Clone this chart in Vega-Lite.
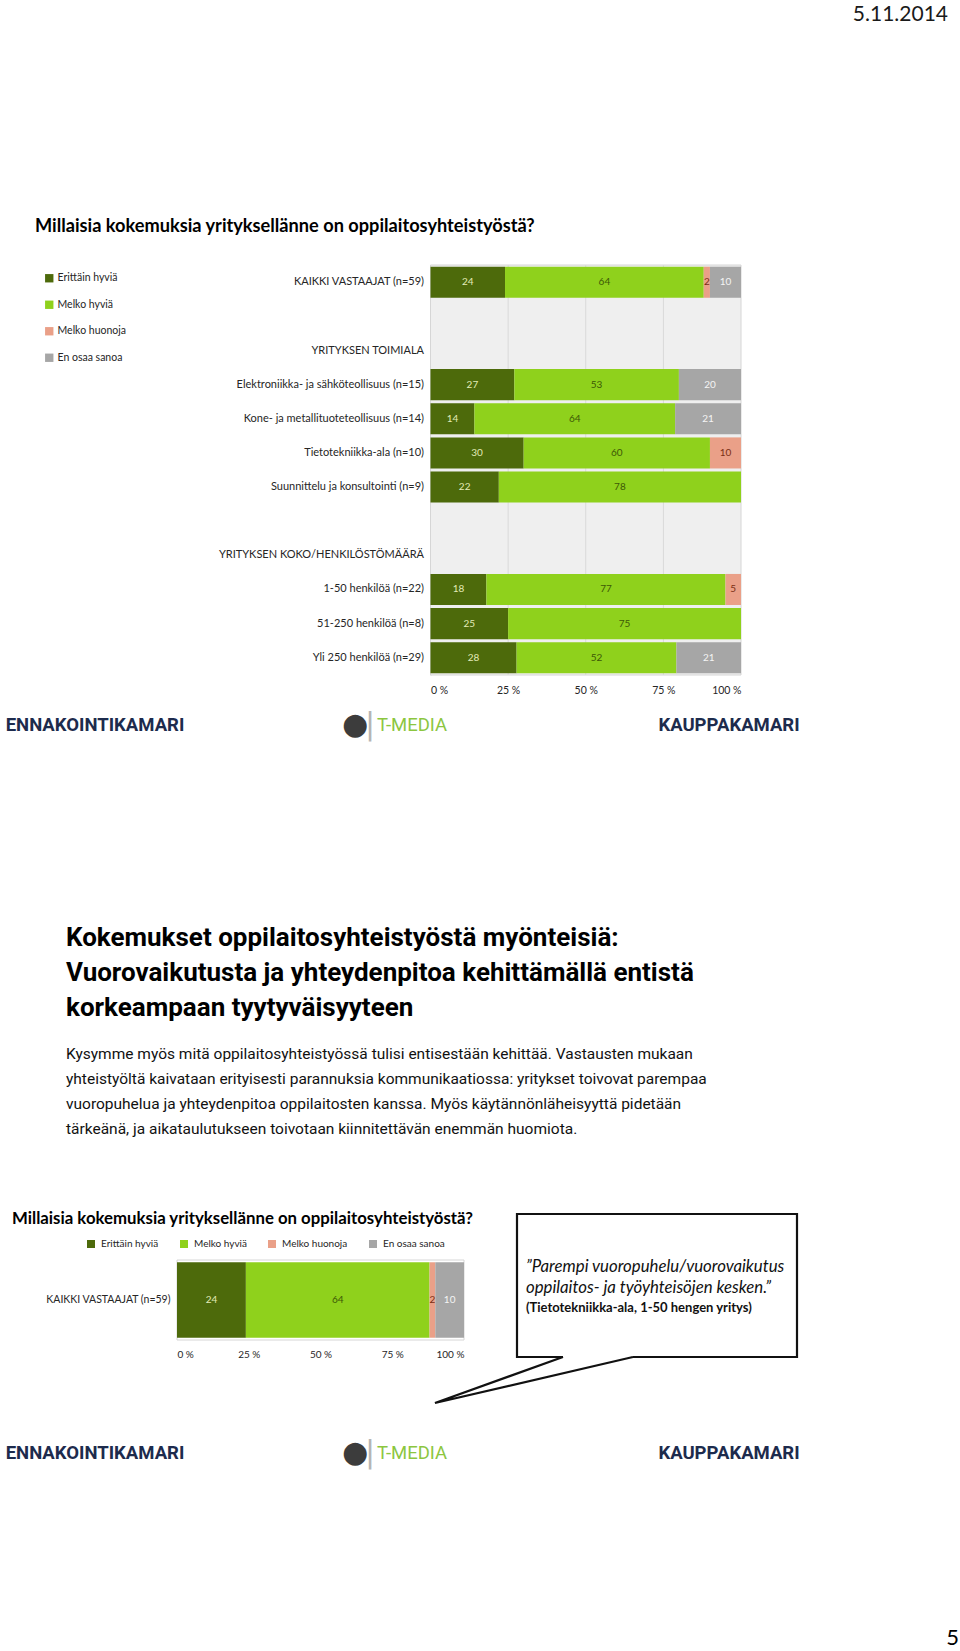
{
  "$schema": "https://vega.github.io/schema/vega-lite/v6.json",
  "padding": 0,
  "background": "white",
  "spacing": 0,
  "bounds": "flush",
  "datasets": {
    "c1": [
      {"row": "KAIKKI VASTAAJAT (n=59)", "cat": "Erittäin hyviä", "pct": 24},
      {"row": "KAIKKI VASTAAJAT (n=59)", "cat": "Melko hyviä", "pct": 64},
      {"row": "KAIKKI VASTAAJAT (n=59)", "cat": "Melko huonoja", "pct": 2},
      {"row": "KAIKKI VASTAAJAT (n=59)", "cat": "En osaa sanoa", "pct": 10},
      {"row": "Elektroniikka- ja sähköteollisuus (n=15)", "cat": "Erittäin hyviä", "pct": 27},
      {"row": "Elektroniikka- ja sähköteollisuus (n=15)", "cat": "Melko hyviä", "pct": 53},
      {"row": "Elektroniikka- ja sähköteollisuus (n=15)", "cat": "En osaa sanoa", "pct": 20},
      {"row": "Kone- ja metallituoteteollisuus (n=14)", "cat": "Erittäin hyviä", "pct": 14},
      {"row": "Kone- ja metallituoteteollisuus (n=14)", "cat": "Melko hyviä", "pct": 64},
      {"row": "Kone- ja metallituoteteollisuus (n=14)", "cat": "En osaa sanoa", "pct": 21},
      {"row": "Tietotekniikka-ala (n=10)", "cat": "Erittäin hyviä", "pct": 30},
      {"row": "Tietotekniikka-ala (n=10)", "cat": "Melko hyviä", "pct": 60},
      {"row": "Tietotekniikka-ala (n=10)", "cat": "Melko huonoja", "pct": 10},
      {"row": "Suunnittelu ja konsultointi (n=9)", "cat": "Erittäin hyviä", "pct": 22},
      {"row": "Suunnittelu ja konsultointi (n=9)", "cat": "Melko hyviä", "pct": 78},
      {"row": "1-50 henkilöä (n=22)", "cat": "Erittäin hyviä", "pct": 18},
      {"row": "1-50 henkilöä (n=22)", "cat": "Melko hyviä", "pct": 77},
      {"row": "1-50 henkilöä (n=22)", "cat": "Melko huonoja", "pct": 5},
      {"row": "51-250 henkilöä (n=8)", "cat": "Erittäin hyviä", "pct": 25},
      {"row": "51-250 henkilöä (n=8)", "cat": "Melko hyviä", "pct": 75},
      {"row": "Yli 250 henkilöä (n=29)", "cat": "Erittäin hyviä", "pct": 28},
      {"row": "Yli 250 henkilöä (n=29)", "cat": "Melko hyviä", "pct": 52},
      {"row": "Yli 250 henkilöä (n=29)", "cat": "En osaa sanoa", "pct": 21}
    ],
    "logos": [
      {"logo": "ENNAKOINTIKAMARI"},
      {"logo": "T-MEDIA"},
      {"logo": "KAUPPAKAMARI"}
    ],
    "callout": [
      {"cx": 0.414, "cy": 0, "o": 0},
      {"cx": 1, "cy": 0, "o": 1},
      {"cx": 1, "cy": 1, "o": 2},
      {"cx": 0, "cy": 1, "o": 3},
      {"cx": 0, "cy": 0, "o": 4},
      {"cx": 0.164, "cy": 0, "o": 5},
      {"cx": -0.293, "cy": -0.322, "o": 6},
      {"cx": 0.414, "cy": 0, "o": 7}
    ]
  },
  "resolve": {
    "scale": {"color": "independent", "x": "independent", "y": "independent"},
    "legend": {"color": "independent"},
    "axis": {"x": "independent", "y": "independent"}
  },
  "vconcat": [
    {
      "width": 960,
      "height": 265,
      "data": {"values": [{}]},
      "mark": {"type": "text", "text": ""},
      "encoding": {},
      "title": {"text": "5.11.2014", "anchor": "end", "frame": "group", "orient": "top", "offset": -25, "dx": -12, "font": "Lato", "fontSize": 21, "fontWeight": "normal", "color": "#1a1a1a"}
    },
    {
      "width": 960,
      "height": 410,
      "title": {"text": "Millaisia kokemuksia yrityksellänne on oppilaitosyhteistyöstä?", "anchor": "start", "frame": "group", "orient": "top", "offset": 28, "dx": 35, "fontSize": 18.2, "fontWeight": "bold", "color": "#000000"},
      "layer": [
        {
          "data": {"values": [{}]},
          "mark": {"type": "rect", "fill": "#efefef", "stroke": "#d6d6d6", "strokeWidth": 1},
          "encoding": {
            "x": {"datum": 0, "type": "quantitative", "scale": {"domain": [0, 1], "range": [430.5, 741], "nice": false}, "axis": {"values": [0, 0.25, 0.5, 0.75, 1], "labelExpr": "round(datum.value * 100) + ' %'", "labelPadding": 10, "labelFontSize": 10.5, "title": null}},
            "x2": {"datum": 1}
          }
        },
        {
          "data": {"values": [{}]},
          "mark": {"type": "rule", "color": "#d9d9d9", "strokeWidth": 1},
          "encoding": {"x": {"datum": 0.25, "type": "quantitative", "scale": {"domain": [0, 1], "range": [430.5, 741], "nice": false}, "axis": {"values": [0, 0.25, 0.5, 0.75, 1], "labelExpr": "round(datum.value * 100) + ' %'", "labelPadding": 10, "labelFontSize": 10.5, "title": null}}}
        },
        {
          "data": {"values": [{}]},
          "mark": {"type": "rule", "color": "#d9d9d9", "strokeWidth": 1},
          "encoding": {"x": {"datum": 0.5, "type": "quantitative", "scale": {"domain": [0, 1], "range": [430.5, 741], "nice": false}, "axis": {"values": [0, 0.25, 0.5, 0.75, 1], "labelExpr": "round(datum.value * 100) + ' %'", "labelPadding": 10, "labelFontSize": 10.5, "title": null}}}
        },
        {
          "data": {"values": [{}]},
          "mark": {"type": "rule", "color": "#d9d9d9", "strokeWidth": 1},
          "encoding": {"x": {"datum": 0.75, "type": "quantitative", "scale": {"domain": [0, 1], "range": [430.5, 741], "nice": false}, "axis": {"values": [0, 0.25, 0.5, 0.75, 1], "labelExpr": "round(datum.value * 100) + ' %'", "labelPadding": 10, "labelFontSize": 10.5, "title": null}}}
        },
        {
          "data": {"name": "c1"},
          "transform": [{"stack": "pct", "groupby": ["row"], "offset": "normalize", "as": ["x0", "x1"]}],
          "mark": {"type": "bar"},
          "encoding": {
            "y": {"field": "row", "type": "nominal", "scale": {"domain": ["KAIKKI VASTAAJAT (n=59)", "", "YRITYKSEN TOIMIALA", "Elektroniikka- ja sähköteollisuus (n=15)", "Kone- ja metallituoteteollisuus (n=14)", "Tietotekniikka-ala (n=10)", "Suunnittelu ja konsultointi (n=9)", " ", "YRITYKSEN KOKO/HENKILÖSTÖMÄÄRÄ", "1-50 henkilöä (n=22)", "51-250 henkilöä (n=8)", "Yli 250 henkilöä (n=29)"], "paddingInner": 0.09, "paddingOuter": 0.05}, "axis": {"offset": -430.5, "labelPadding": 7, "labelFontSize": 11, "labelLimit": 400, "domain": true, "domainColor": "#c4c4c4", "title": null}},
            "x": {"field": "x0", "type": "quantitative", "scale": {"domain": [0, 1], "range": [430.5, 741], "nice": false}, "axis": {"values": [0, 0.25, 0.5, 0.75, 1], "labelExpr": "round(datum.value * 100) + ' %'", "labelPadding": 10, "labelFontSize": 10.5, "title": null}},
            "x2": {"field": "x1"},
            "color": {"field": "cat", "type": "nominal", "scale": {"domain": ["Erittäin hyviä", "Melko hyviä", "Melko huonoja", "En osaa sanoa"], "range": ["#4d6a0b", "#8fd11c", "#eaa088", "#a6a6a6"]}, "legend": {"orient": "none", "legendX": 44, "legendY": 8, "direction": "vertical", "title": null, "symbolSize": 70, "labelFontSize": 10.5, "rowPadding": 15.5, "labelOffset": 3}}
          }
        },
        {
          "data": {"name": "c1"},
          "transform": [
            {"stack": "pct", "groupby": ["row"], "offset": "normalize", "as": ["x0", "x1"]},
            {"fold": ["x0", "x1"], "as": ["edge", "pos"]},
            {"aggregate": [{"op": "mean", "field": "pos", "as": "mid"}], "groupby": ["row", "cat", "pct"]}
          ],
          "mark": {"type": "text", "fontSize": 10, "font": "Lato"},
          "encoding": {
            "y": {"field": "row", "type": "nominal", "scale": {"domain": ["KAIKKI VASTAAJAT (n=59)", "", "YRITYKSEN TOIMIALA", "Elektroniikka- ja sähköteollisuus (n=15)", "Kone- ja metallituoteteollisuus (n=14)", "Tietotekniikka-ala (n=10)", "Suunnittelu ja konsultointi (n=9)", " ", "YRITYKSEN KOKO/HENKILÖSTÖMÄÄRÄ", "1-50 henkilöä (n=22)", "51-250 henkilöä (n=8)", "Yli 250 henkilöä (n=29)"], "paddingInner": 0.09, "paddingOuter": 0.05}, "axis": {"offset": -430.5, "labelPadding": 7, "labelFontSize": 11, "labelLimit": 400, "domain": true, "domainColor": "#c4c4c4", "title": null}},
            "x": {"field": "mid", "type": "quantitative", "scale": {"domain": [0, 1], "range": [430.5, 741], "nice": false}, "axis": {"values": [0, 0.25, 0.5, 0.75, 1], "labelExpr": "round(datum.value * 100) + ' %'", "labelPadding": 10, "labelFontSize": 10.5, "title": null}},
            "text": {"field": "pct", "type": "quantitative"},
            "color": {"condition": [{"test": "datum.cat === 'Melko hyviä'", "value": "#3d5806"}, {"test": "datum.cat === 'Melko huonoja'", "value": "#7a2e14"}, {"test": "datum.cat === 'Erittäin hyviä'", "value": "#e2eab8"}], "value": "#f4f4f4"}
          }
        }
      ]
    },
    {
      "width": 960,
      "height": 100,
      "data": {"name": "logos"},
      "encoding": {"x": {"field": "logo", "type": "nominal", "scale": {"type": "point", "domain": ["ENNAKOINTIKAMARI", "T-MEDIA", "KAUPPAKAMARI"], "range": [95, 729], "padding": 0}, "axis": null}},
      "layer": [
        {"transform": [{"filter": "datum.logo !== 'T-MEDIA'"}], "mark": {"type": "text", "font": "Roboto", "fontWeight": "bold", "fontSize": 18.5, "color": "#1d2b4d"}, "encoding": {"text": {"field": "logo", "type": "nominal"}}},
        {"transform": [{"filter": "datum.logo === 'T-MEDIA'"}], "mark": {"type": "text", "font": "Roboto", "fontSize": 18.5, "color": "#8cc63f"}, "encoding": {"text": {"field": "logo", "type": "nominal"}}},
        {"transform": [{"filter": "datum.logo === 'T-MEDIA'"}], "mark": {"type": "text", "text": "●", "dx": -57, "fontSize": 30, "color": "#3c3c3c", "font": "DejaVu Sans"}},
        {"transform": [{"filter": "datum.logo === 'T-MEDIA'"}], "mark": {"type": "text", "text": "|", "dx": -42, "fontSize": 30, "color": "#b5b5b5", "font": "DejaVu Sans"}}
      ]
    },
    {
      "width": 960,
      "height": 485,
      "data": {"values": [{}]},
      "mark": {"type": "text", "text": ""},
      "encoding": {},
      "title": {
        "text": ["Kokemukset oppilaitosyhteistyöstä myönteisiä:", "Vuorovaikutusta ja yhteydenpitoa kehittämällä entistä", "korkeampaan tyytyväisyyteen"],
        "subtitle": ["Kysymme myös mitä oppilaitosyhteistyössä tulisi entisestään kehittää. Vastausten mukaan", "yhteistyöltä kaivataan erityisesti parannuksia kommunikaatiossa: yritykset toivovat parempaa", "vuoropuhelua ja yhteydenpitoa oppilaitosten kanssa. Myös käytännönläheisyyttä pidetään", "tärkeänä, ja aikataulutukseen toivotaan kiinnitettävän enemmän huomiota."],
        "anchor": "start", "frame": "group", "orient": "top", "offset": -362, "dx": 66,
        "font": "Roboto", "fontSize": 26, "fontWeight": "bold", "lineHeight": 35, "color": "#000000",
        "subtitleFont": "Roboto", "subtitleFontSize": 15.5, "subtitleLineHeight": 25, "subtitlePadding": 26, "subtitleColor": "#111111", "limit": 900
      }
    },
    {
      "width": 960,
      "height": 80,
      "title": {"text": "Millaisia kokemuksia yrityksellänne on oppilaitosyhteistyöstä?", "anchor": "start", "frame": "group", "orient": "top", "offset": -18, "dx": 12, "fontSize": 16.8, "fontWeight": "bold", "color": "#000000"},
      "layer": [
        {
          "layer": [
            {
              "data": {"values": [{}]},
              "mark": {"type": "rect", "fill": "white", "stroke": "#d6d6d6", "strokeWidth": 1},
              "encoding": {
                "x": {"datum": 0, "type": "quantitative", "scale": {"domain": [0, 1], "range": [177, 464], "nice": false}, "axis": {"values": [0, 0.25, 0.5, 0.75, 1], "labelExpr": "round(datum.value * 100) + ' %'", "labelPadding": 9, "labelFontSize": 10, "title": null}},
                "x2": {"datum": 1}
              }
            },
            {
              "data": {"name": "c1"},
              "transform": [{"filter": "datum.row === 'KAIKKI VASTAAJAT (n=59)'"}, {"stack": "pct", "groupby": ["row"], "offset": "normalize", "as": ["x0", "x1"]}],
              "mark": {"type": "bar"},
              "encoding": {
                "y": {"field": "row", "type": "nominal", "scale": {"domain": ["KAIKKI VASTAAJAT (n=59)"], "paddingInner": 0, "paddingOuter": 0.03}, "axis": {"offset": -177, "labelPadding": 7, "labelFontSize": 10.5, "domain": false, "title": null}},
                "x": {"field": "x0", "type": "quantitative", "scale": {"domain": [0, 1], "range": [177, 464], "nice": false}, "axis": {"values": [0, 0.25, 0.5, 0.75, 1], "labelExpr": "round(datum.value * 100) + ' %'", "labelPadding": 9, "labelFontSize": 10, "title": null}},
                "x2": {"field": "x1"},
                "color": {"field": "cat", "type": "nominal", "scale": {"domain": ["Erittäin hyviä", "Melko hyviä", "Melko huonoja", "En osaa sanoa"], "range": ["#4d6a0b", "#8fd11c", "#eaa088", "#a6a6a6"]}, "legend": {"orient": "none", "legendX": 86, "legendY": -21, "direction": "horizontal", "title": null, "symbolSize": 64, "labelFontSize": 10, "columnPadding": 20, "labelOffset": 5}}
              }
            },
            {
              "data": {"name": "c1"},
              "transform": [
                {"filter": "datum.row === 'KAIKKI VASTAAJAT (n=59)'"},
                {"stack": "pct", "groupby": ["row"], "offset": "normalize", "as": ["x0", "x1"]},
                {"fold": ["x0", "x1"], "as": ["edge", "pos"]},
                {"aggregate": [{"op": "mean", "field": "pos", "as": "mid"}], "groupby": ["row", "cat", "pct"]}
              ],
              "mark": {"type": "text", "fontSize": 10, "font": "Lato"},
              "encoding": {
                "y": {"field": "row", "type": "nominal", "scale": {"domain": ["KAIKKI VASTAAJAT (n=59)"], "paddingInner": 0, "paddingOuter": 0.03}, "axis": {"offset": -177, "labelPadding": 7, "labelFontSize": 10.5, "domain": false, "title": null}},
                "x": {"field": "mid", "type": "quantitative", "scale": {"domain": [0, 1], "range": [177, 464], "nice": false}, "axis": {"values": [0, 0.25, 0.5, 0.75, 1], "labelExpr": "round(datum.value * 100) + ' %'", "labelPadding": 9, "labelFontSize": 10, "title": null}},
                "text": {"field": "pct", "type": "quantitative"},
                "color": {"condition": [{"test": "datum.cat === 'Melko hyviä'", "value": "#3d5806"}, {"test": "datum.cat === 'Melko huonoja'", "value": "#7a2e14"}, {"test": "datum.cat === 'Erittäin hyviä'", "value": "#e2eab8"}], "value": "#f4f4f4"}
              }
            }
          ]
        },
        {
          "layer": [
            {
              "data": {"name": "callout"},
              "mark": {"type": "line", "color": "#111111", "strokeWidth": 2.2, "strokeJoin": "miter"},
              "encoding": {
                "x": {"field": "cx", "type": "quantitative", "scale": {"domain": [0, 1], "range": [517, 797], "nice": false, "zero": false}, "axis": null},
                "y": {"field": "cy", "type": "quantitative", "scale": {"domain": [0, 1], "range": [97, -46], "nice": false, "zero": false}, "axis": null},
                "order": {"field": "o", "type": "quantitative"}
              }
            },
            {
              "data": {"values": [{}]},
              "mark": {"type": "text", "align": "left", "baseline": "middle", "fontStyle": "italic", "fontSize": 16.8, "lineHeight": 21, "color": "#111111", "font": "Lato", "text": ["”Parempi vuoropuhelu/vuorovaikutus", "oppilaitos- ja työyhteisöjen kesken.”"]},
              "encoding": {
                "x": {"datum": 0.032, "type": "quantitative", "scale": {"domain": [0, 1], "range": [517, 797], "nice": false, "zero": false}, "axis": null},
                "y": {"datum": 0.629, "type": "quantitative", "scale": {"domain": [0, 1], "range": [97, -46], "nice": false, "zero": false}, "axis": null}
              }
            },
            {
              "data": {"values": [{}]},
              "mark": {"type": "text", "align": "left", "baseline": "middle", "fontWeight": "bold", "fontSize": 13, "color": "#111111", "font": "Lato", "text": "(Tietotekniikka-ala, 1-50 hengen yritys)"},
              "encoding": {
                "x": {"datum": 0.032, "type": "quantitative", "scale": {"domain": [0, 1], "range": [517, 797], "nice": false, "zero": false}, "axis": null},
                "y": {"datum": 0.34, "type": "quantitative", "scale": {"domain": [0, 1], "range": [97, -46], "nice": false, "zero": false}, "axis": null}
              }
            }
          ]
        }
      ],
      "resolve": {"scale": {"x": "independent", "y": "independent"}, "axis": {"x": "independent", "y": "independent"}}
    },
    {
      "width": 960,
      "height": 226,
      "data": {"name": "logos"},
      "title": {"text": "5", "anchor": "end", "frame": "group", "orient": "bottom", "offset": 62, "dx": -1, "fontSize": 22, "fontWeight": "normal", "color": "#000000"},
      "encoding": {"x": {"field": "logo", "type": "nominal", "scale": {"type": "point", "domain": ["ENNAKOINTIKAMARI", "T-MEDIA", "KAUPPAKAMARI"], "range": [95, 729], "padding": 0}, "axis": null}},
      "layer": [
        {"transform": [{"filter": "datum.logo !== 'T-MEDIA'"}], "mark": {"type": "text", "font": "Roboto", "fontWeight": "bold", "fontSize": 18.5, "color": "#1d2b4d"}, "encoding": {"text": {"field": "logo", "type": "nominal"}}},
        {"transform": [{"filter": "datum.logo === 'T-MEDIA'"}], "mark": {"type": "text", "font": "Roboto", "fontSize": 18.5, "color": "#8cc63f"}, "encoding": {"text": {"field": "logo", "type": "nominal"}}},
        {"transform": [{"filter": "datum.logo === 'T-MEDIA'"}], "mark": {"type": "text", "text": "●", "dx": -57, "fontSize": 30, "color": "#3c3c3c", "font": "DejaVu Sans"}},
        {"transform": [{"filter": "datum.logo === 'T-MEDIA'"}], "mark": {"type": "text", "text": "|", "dx": -42, "fontSize": 30, "color": "#b5b5b5", "font": "DejaVu Sans"}}
      ]
    }
  ],
  "config": {
    "view": {"stroke": null},
    "font": "Lato",
    "axis": {"labelFont": "Lato", "labelColor": "#262626", "ticks": false, "domain": false, "grid": false},
    "legend": {"labelFont": "Lato", "labelColor": "#262626", "symbolType": "square", "symbolStrokeWidth": 0, "padding": 0},
    "title": {"font": "Lato", "color": "#000000"}
  }
}
